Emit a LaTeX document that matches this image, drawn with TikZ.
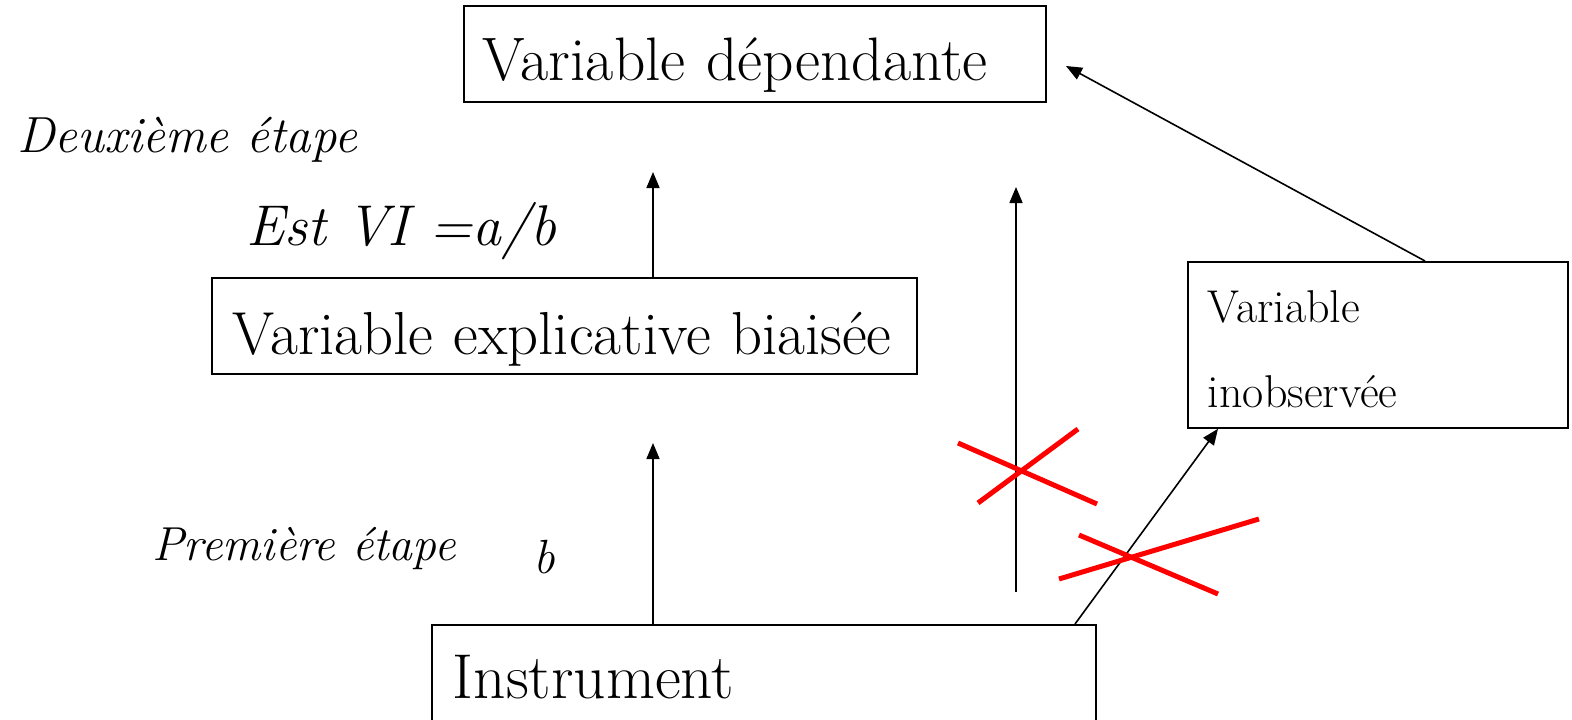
\documentclass[tikz,border=0pt]{standalone}
\usetikzlibrary{arrows.meta,calc}
\tikzset{
  boxnode/.style={draw=black, line width=1.8pt, anchor=north west, align=left, inner ysep=0pt},
  conn/.style={line width=1.6pt, -{Triangle[length=16pt,width=13pt]}},
  redx/.style={draw=red, line width=5pt},
  lbl/.style={anchor=base west, inner sep=0pt, font=\itshape\fontsize{50.8}{60}\selectfont}
}
\begin{document}
\begin{tikzpicture}[x=1pt,y=-1pt]
\useasboundingbox (0,0) rectangle (1572,720);
% boxes
\node[boxnode, inner xsep=19pt, text width=544pt, text height=75pt, text depth=21pt,
  font=\fontsize{61.4}{70}\selectfont] (dep) at (463,5) {Variable dépendante};
\node[boxnode, inner xsep=21pt, text width=663pt, text height=77pt, text depth=19pt,
  font=\fontsize{60.7}{70}\selectfont] (expl) at (211,277) {Variable explicative biaisée};
\node[boxnode, inner xsep=20pt, text width=340pt, text height=61pt, text depth=105pt,
  font=\fontsize{46}{85}\selectfont] (inobs) at (1187,261) {Variable\\inobservée};
\node[boxnode, inner xsep=21pt, text width=622pt, text height=74pt, text depth=60pt,
  font=\fontsize{63.4}{70}\selectfont] (instr) at (431,624) {Instrument};
% labels
\node[lbl] (deux) at (17,152) {Deuxième étape};
\node[lbl, font=\itshape\fontsize{57.5}{60}\selectfont] (est) at (246,245) {Est VI =a/b};
\node[lbl, font=\itshape\fontsize{47.7}{60}\selectfont] (prem) at (152,560) {Première étape};
\node[lbl, font=\itshape\fontsize{48}{60}\selectfont] (bb) at (533,573) {b};
% free ends
\coordinate (depend) at (1066,66);
\coordinate (explend) at (653,172);
\coordinate (instrend) at (653,443);
\coordinate (vstart) at (1016,592);
\coordinate (vend) at (1016,187);
% connectors
\draw[conn] ($(inobs.north west)+(238,0)$) -- (depend);
\draw[conn] (expl.north -| explend) -- (explend);
\draw[conn] (instr.north -| instrend) -- (instrend);
\draw[conn] (vstart) -- (vend);
\draw[conn] ($(instr.north west)+(644,0)$) -- ($(inobs.south west)+(31,0)$);
% red crosses
\draw[redx] (958,443) -- (1097,504);
\draw[redx] (978,503) -- (1078,429);
\draw[redx] (1079,535) -- (1218,594);
\draw[redx] (1059,579) -- (1259,519);
\end{tikzpicture}
\end{document}
